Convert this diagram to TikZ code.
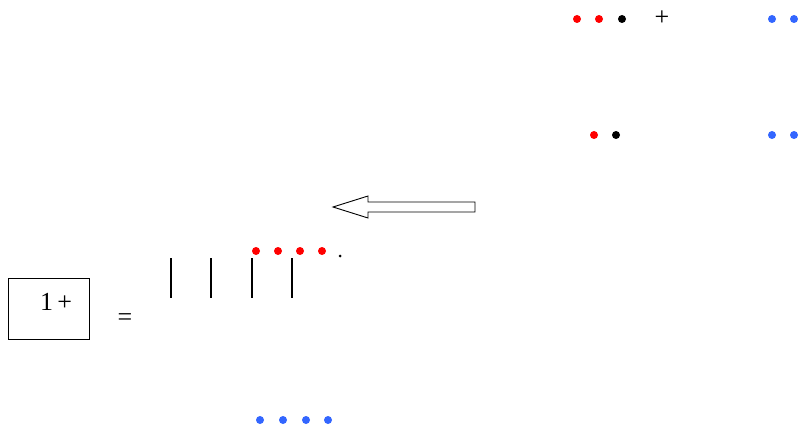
\documentclass[tikz,border=0pt]{standalone}
\usepackage{fontspec}
\setmainfont{Liberation Serif}
\definecolor{dotblue}{RGB}{51,102,255}
\begin{document}
\begin{tikzpicture}[x=1pt,y=-1pt,
  rdot/.style={circle,fill=red,inner sep=0pt,minimum size=8pt},
  bdot/.style={circle,fill=dotblue,inner sep=0pt,minimum size=8pt},
  kdot/.style={circle,fill=black,inner sep=0pt,minimum size=8pt},
  txt/.style={inner sep=0pt,font=\fontsize{26pt}{30pt}\selectfont},
  bar/.style={line width=1.2pt}]
\useasboundingbox (0,0) rectangle (801,433);
% top row
\node[rdot] (r1) at (577,19) {};
\node[rdot] (r2) at (599,19) {};
\node[kdot] (k1) at (622,19) {};
\node[txt] (plus1) at (662,18) {+};
\node[bdot] (b1) at (772,19) {};
\node[bdot] (b2) at (794,19) {};
% second row
\node[rdot] (r3) at (594,135) {};
\node[kdot] (k2) at (616,135) {};
\node[bdot] (b3) at (772,135) {};
\node[bdot] (b4) at (794,135) {};
% hollow arrow
\draw[line width=0.9pt,fill=white] (475,202) -- (368,202) -- (368,196) -- (333,207) -- (368,218) -- (368,212) -- (475,212) -- cycle;
% red dots and period
\node[rdot] (r4) at (256,251) {};
\node[rdot] (r5) at (278,251) {};
\node[rdot] (r6) at (300,251) {};
\node[rdot] (r6b) at (322,251) {};
\node[circle,fill=black,inner sep=0pt,minimum size=3pt] (per) at (340,256) {};
% bars
\coordinate (t1) at (171,258); \coordinate (u1) at (171,298);
\coordinate (t2) at (211,258); \coordinate (u2) at (211,298);
\coordinate (t3) at (252,258); \coordinate (u3) at (252,298);
\coordinate (t4) at (292,258); \coordinate (u4) at (292,298);
\draw[bar] (t1) -- (u1);
\draw[bar] (t2) -- (u2);
\draw[bar] (t3) -- (u3);
\draw[bar] (t4) -- (u4);
% box
\draw[line width=1pt] (8,278) rectangle (89,339);
\node[txt] (onep) at (56,302) {1\,+};
\node[txt] (eq) at (125,320) {=};
% bottom blue dots
\node[bdot] (b5) at (260,420) {};
\node[bdot] (b6) at (283,420) {};
\node[bdot] (b7) at (306,420) {};
\node[bdot] (b8) at (328,420) {};
\end{tikzpicture}
\end{document}
